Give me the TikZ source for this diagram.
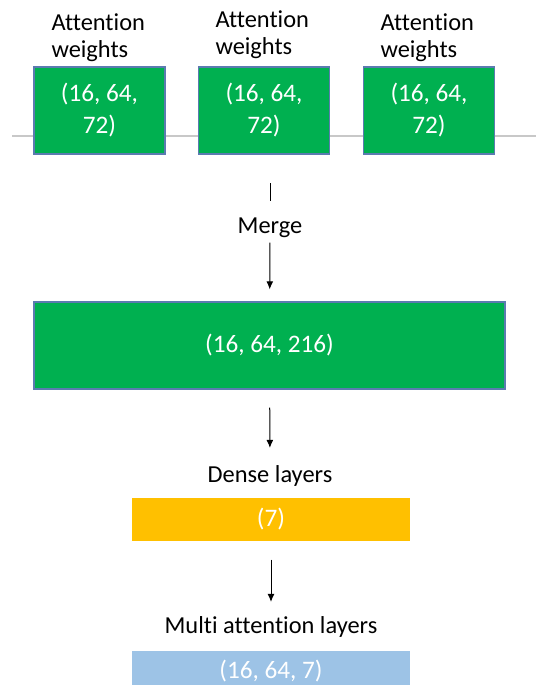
\documentclass[tikz,border=0pt]{standalone}
\usepackage{fontspec}
\setmainfont{Carlito}[Ligatures=NoCommon]
\usepackage{tikz}
\usetikzlibrary{arrows.meta, positioning}
\definecolor{attgreen}{HTML}{00B050}
\definecolor{attedge}{HTML}{5B7BB0}
\definecolor{denseorange}{HTML}{FFC000}
\definecolor{multiblue}{HTML}{9DC3E6}
\definecolor{rulegray}{HTML}{C8C8C8}

\begin{document}
\begin{tikzpicture}[x=0.5pt, y=-0.5pt, >={Latex[length=4pt, width=3.4pt]}, line width=0.5pt,
				font=\fontsize{12.2}{13.2}\selectfont,
				Weights/.style={
				draw=attedge,
				line width=0.6pt,
				fill=attgreen,
				text=white,
				align=center,
				font=\fontsize{12.6}{16}\selectfont,
				minimum width=65.5pt,
				minimum height=43.5pt,
				inner sep=0pt},
				Caption/.style={inner sep=0pt, align=left, anchor=north west},
				Step/.style={inner sep=0pt, anchor=base},
				Bar/.style={text=white, inner sep=0pt, minimum width=139pt,
				font=\fontsize{12.6}{16}\selectfont}]
				\useasboundingbox (0,0) rectangle (536,685);
				\clip (0,0) rectangle (536,685);
				\draw[rulegray, line width=0.7pt] (12,136) -- (536,136);
				% three attention heads
				\node[Weights] (W1) at (99.5,110.5) {(16, 64,\\72)};
				\node[Weights] (W2) at (264,110.5) {(16, 64,\\72)};
				\node[Weights] (W3) at (429,110.5) {(16, 64,\\72)};
				\node[Caption] (C1) at (51,13.5) {Attention\\weights};
				\node[Caption] (C2) at (215,10.5) {Attention\\weights};
				\node[Caption] (C3) at (380,13.5) {Attention\\weights};
				% merge step
				\coordinate (mtop) at (270,183);
				\node[Step] (merge) at (270,233) {Merge};
				\node[Weights, minimum width=235.5pt] (merged) at (269.5,345.5) {(16, 64, 216)};
				\draw[shorten >=7.9pt] (mtop) -- (merge);
				\draw[->, shorten <=2.5pt, shorten >=6pt] (merge) -- (merged);
				% dense and multi attention
				\node[Step] (dense) at (270,482) {Dense layers};
				\node[Bar, fill=denseorange, minimum height=21.5pt] (D) at (271,519.5) {(7)};
				\node[Step] (multi) at (271,633) {Multi attention layers};
				\node[Bar, fill=multiblue, minimum height=20pt] (M) at (271,671) {(16, 64, 7)};
				\draw[->, shorten <=9pt, shorten >=8.3pt] (merged) -- (dense);
				\draw[->, shorten <=9pt, shorten >=6.8pt] (D) -- (multi);
			\end{tikzpicture}
\end{document}
